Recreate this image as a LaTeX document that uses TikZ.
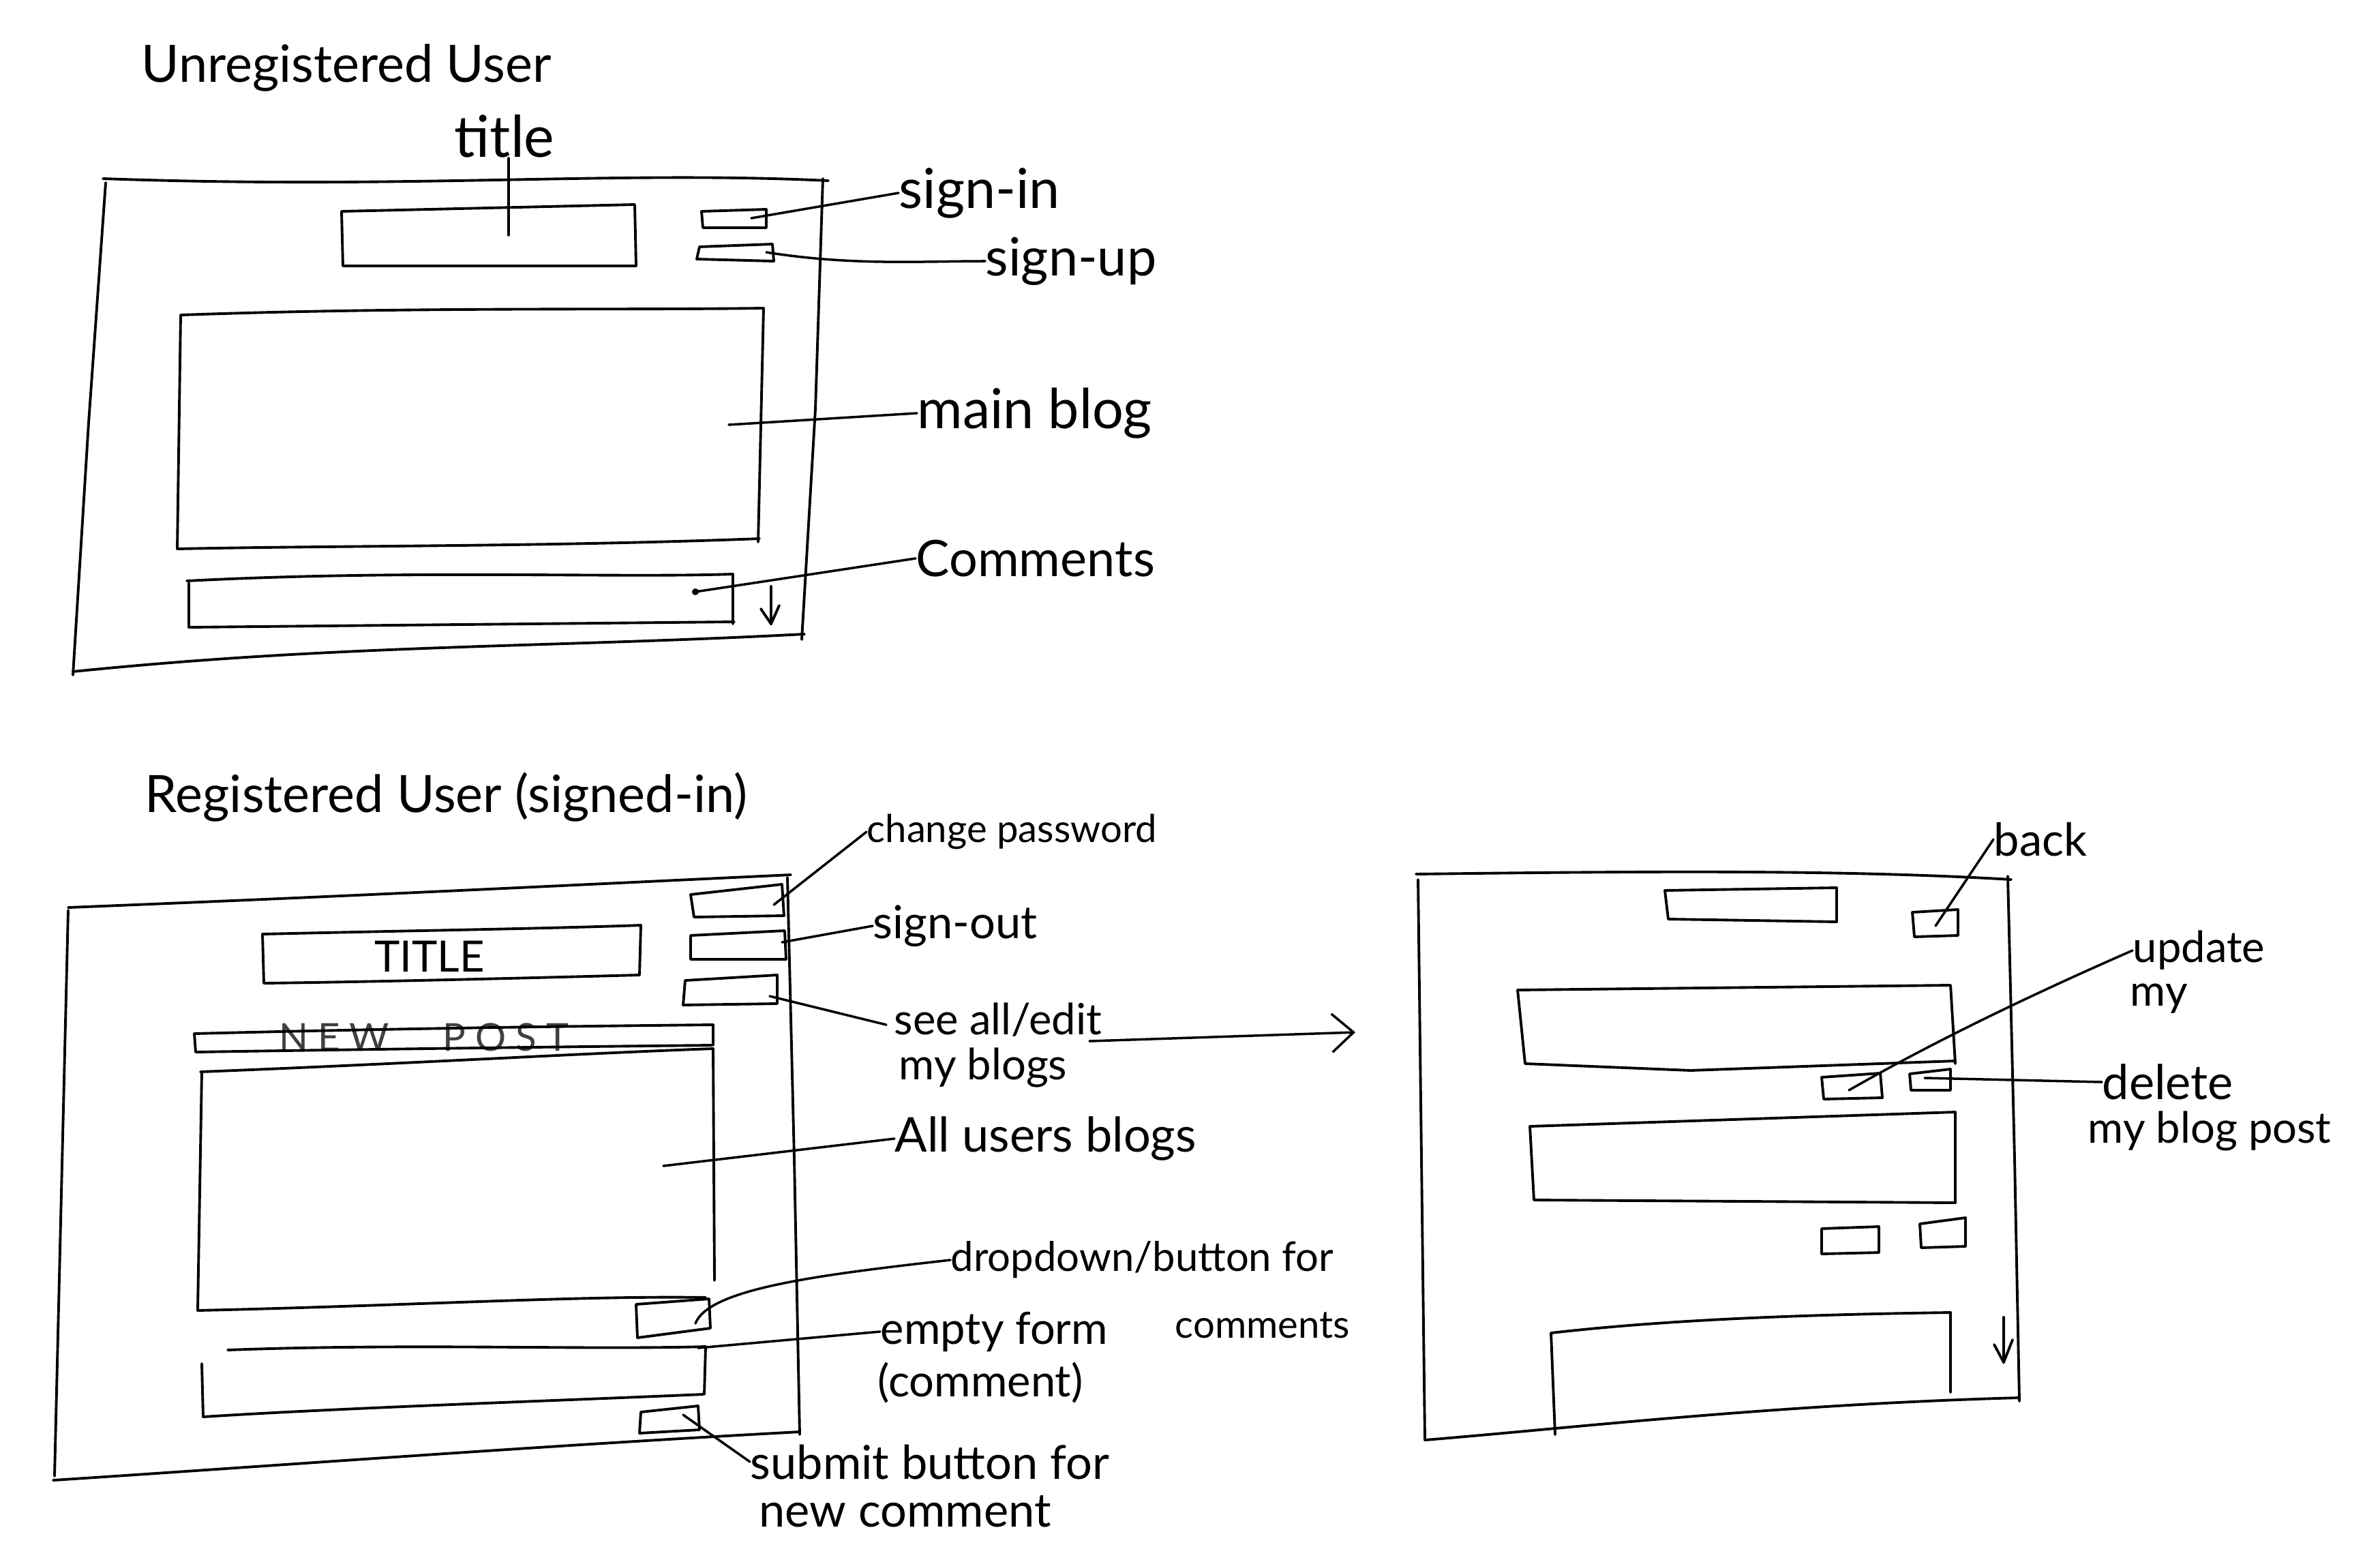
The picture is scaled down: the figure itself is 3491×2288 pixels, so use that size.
\documentclass[tikz,border=0pt]{standalone}
\usepackage{fontspec}
\setmainfont{Lato}
\usetikzlibrary{arrows.meta}
\newcommand{\fs}[1]{\fontsize{#1}{#1}\selectfont}
\begin{document}
\begin{tikzpicture}[x=0.01cm,y=-0.01cm,
  pen/.style={line width=1.1pt,line cap=round,line join=round},
  lead/.style={line width=1pt,line cap=round,line join=round},
  lbl/.style={anchor=west,inner sep=0pt,font=\fs{22}},
  hd/.style={anchor=west,inner sep=0pt,font=\fs{21.5}}]
\useasboundingbox[fill=white] (0,0) rectangle (3491,2288);

% ---------------- Unregistered user ----------------
\node[hd] (hUnreg) at (207,100) {Unregistered User};
% frame
\draw[pen] (151,262) .. controls (600,278) and (900,250) .. (1215,265);
\draw[pen] (1207,262) -- (1196,600) -- (1176,938);
\draw[pen] (1180,930) .. controls (800,950) and (500,945) .. (107,985);
\draw[pen] (155,268) -- (130,620) -- (107,990);
% title box
\draw[pen] (501,310) -- (931,300) -- (933,390) -- (503,390) -- cycle;
% sign-in / sign-up
\draw[pen] (1029,310) -- (1124,307) -- (1124,334) -- (1031,334) -- cycle;
\draw[pen] (1026,362) -- (1133,358) -- (1135,383) -- (1022,380) -- cycle;
% main blog
\draw[pen] (265,462) .. controls (600,450) and (900,455) .. (1120,452) -- (1112,795);
\draw[pen] (1114,790) .. controls (800,802) and (500,800) .. (260,805) -- (265,462);
% comments box
\draw[pen] (274,852) .. controls (600,835) and (900,848) .. (1075,842) -- (1075,915);
\draw[pen] (1077,912) -- (277,920) -- (277,855);
\fill (1020,868) circle (5);
\draw[pen] (1131,860) -- (1131,915);
\draw[pen] (1116,893) -- (1131,915) -- (1143,888);

\node[lbl,font=\fs{24}] (ttl) at (666,200) {title};
\coordinate (ttlP) at (746,345);
\draw[lead] (ttlP) -- (746,232) coordinate (ttlTop);

\node[lbl,font=\fs{23}] (signin) at (1318,283) {sign-in};
\coordinate (sinP) at (1102,320);
\draw[lead] (sinP) -- (signin.west);

\node[lbl] (signup) at (1445,383) {sign-up};
\coordinate (supP) at (1124,370);
\draw[lead] (supP) .. controls (1250,390) and (1350,383) .. (signup.west);

\node[lbl,font=\fs{23}] (mainblog) at (1345,606) {main blog};
\coordinate (mbP) at (1069,623);
\draw[lead] (mbP) -- (mainblog.west);

\node[lbl,font=\fs{21}] (comm) at (1343,819) {Comments};
\coordinate (cmP) at (1020,868);
\draw[lead] (cmP) -- (comm.west);

% ---------------- Registered user ----------------
\node[hd] (hReg) at (212,1169) {Registered User (signed-in)};
% frame
\draw[pen] (100,1331) .. controls (500,1315) and (800,1300) .. (1160,1283);
\draw[pen] (1155,1287) -- (1165,1700) -- (1173,2104);
\draw[pen] (1173,2100) .. controls (800,2120) and (400,2150) .. (78,2171);
\draw[pen] (100,1335) -- (90,1750) -- (80,2165);
% buttons right
\draw[pen] (1013,1312) -- (1147,1297) -- (1150,1343) -- (1018,1345) -- cycle;
\draw[pen] (1013,1372) -- (1151,1365) -- (1153,1407) -- (1013,1407) -- cycle;
\draw[pen] (1005,1438) -- (1140,1430) -- (1140,1472) -- (1002,1474) -- cycle;
% TITLE box
\draw[pen] (385,1370) .. controls (600,1365) and (800,1362) .. (940,1357) -- (938,1430)
  .. controls (750,1435) and (550,1440) .. (387,1442) -- cycle;
\node[font=\fs{18},inner sep=0pt] (titleTxt) at (630,1403) {TITLE};
% NEW POST bar
\node[font=\fs{16}\addfontfeatures{LetterSpace=25},inner sep=0pt,text=black!75] (newpost) at (622,1521) {NEW\hspace{1.4em}POST};
\draw[pen] (285,1516) .. controls (600,1508) and (850,1505) .. (1046,1503) -- (1046,1533);
\draw[pen] (285,1516) -- (287,1543) .. controls (600,1538) and (850,1535) .. (1044,1533);
% big box
\draw[pen] (294,1572) .. controls (600,1560) and (850,1545) .. (1046,1538) -- (1048,1878);
\draw[pen] (296,1572) -- (290,1922) .. controls (600,1915) and (850,1900) .. (1035,1903);
% dropdown button
\draw[pen] (933,1913) -- (1040,1905) -- (1042,1948) -- (935,1962) -- cycle;
% empty form
\draw[pen] (334,1980) .. controls (600,1970) and (850,1980) .. (1035,1975) -- (1033,2045);
\draw[pen] (1031,2045) .. controls (800,2055) and (500,2065) .. (298,2078) -- (296,2000);
% submit button
\draw[pen] (940,2071) -- (1024,2062) -- (1026,2097) -- (938,2102) -- cycle;

\node[lbl,font=\fs{16}] (chpw) at (1271,1220) {change password};
\coordinate (chpwP) at (1135,1327);
\draw[lead] (chpwP) -- (chpw.west);

\node[lbl,font=\fs{19}] (signout) at (1280,1358) {sign-out};
\coordinate (soP) at (1147,1382);
\draw[lead] (soP) -- (signout.west);

\node[lbl,font=\fs{18}] (seeall) at (1311,1496) {see all/edit};
\node[lbl,font=\fs{18}] (myblogs) at (1318,1566) {my blogs};
\coordinate (saP) at (1129,1461);
\draw[lead] (saP) -- (1300,1503);
\coordinate (arrStart) at (1598,1527);
\coordinate (arrEnd) at (1988,1514);
\draw[lead,-{Straight Barb[length=9pt,width=16pt,line width=1pt]}] (arrStart) -- (arrEnd);

\node[lbl,font=\fs{20}] (allblogs) at (1312,1670) {All users blogs};
\coordinate (abP) at (973,1710);
\draw[lead] (abP) -- (allblogs.west);

\node[lbl,font=\fs{17}] (dropdown) at (1394,1848) {dropdown/button for};
\node[lbl,font=\fs{16}] (comments2) at (1723,1944) {comments};
\coordinate (ddP) at (1020,1941);
\draw[lead] (ddP) .. controls (1040,1890) and (1200,1870) .. (dropdown.west);

\node[lbl,font=\fs{18.5}] (empty) at (1291,1953) {empty form};
\node[lbl,font=\fs{18.5}] (commentP) at (1287,2028) {(comment)};
\coordinate (efP) at (1024,1977);
\draw[lead] (efP) -- (empty.west);

\node[lbl,font=\fs{19.5}] (submit) at (1100,2144) {submit button for};
\node[lbl,font=\fs{19.5}] (newcomm) at (1113,2217) {new comment};
\coordinate (sbP) at (1002,2075);
\draw[lead] (sbP) -- (submit.west);

% ---------------- My blogs page ----------------
\draw[pen] (2077,1282) .. controls (2400,1278) and (2700,1275) .. (2950,1290);
\draw[pen] (2945,1285) -- (2955,1700) -- (2962,2055);
\draw[pen] (2962,2050) .. controls (2600,2060) and (2300,2095) .. (2090,2112);
\draw[pen] (2080,1290) -- (2085,1700) -- (2090,2112);
% top box, back
\draw[pen] (2442,1306) -- (2694,1302) -- (2694,1352) -- (2447,1348) -- cycle;
\draw[pen] (2805,1338) -- (2872,1334) -- (2872,1372) -- (2808,1374) -- cycle;
% box 1
\draw[pen] (2226,1452) -- (2861,1445) -- (2868,1560);
\draw[pen] (2868,1556) -- (2480,1570) -- (2237,1560) -- (2226,1452);
\draw[pen] (2672,1580) -- (2758,1574) -- (2761,1610) -- (2675,1612) -- cycle;
\draw[pen] (2801,1575) -- (2861,1568) -- (2861,1599) -- (2803,1599) -- cycle;
% box 2
\draw[pen] (2244,1652) -- (2868,1631) -- (2868,1764) -- (2250,1760) -- cycle;
\draw[pen] (2672,1802) -- (2756,1799) -- (2756,1837) -- (2672,1839) -- cycle;
\draw[pen] (2816,1795) -- (2883,1786) -- (2883,1828) -- (2818,1830) -- cycle;
% box 3
\draw[pen] (2281,2104) -- (2275,1955) .. controls (2450,1935) and (2650,1928) .. (2861,1925) -- (2861,2042);
\draw[pen] (2939,1932) -- (2939,1998);
\draw[pen] (2925,1972) -- (2939,1998) -- (2952,1965);

\node[lbl,font=\fs{19}] (back) at (2924,1231) {back};
\coordinate (bkP) at (2839,1358);
\draw[lead] (bkP) -- (back.west);

\node[lbl,font=\fs{18}] (update) at (3128,1394) {update};
\node[lbl,font=\fs{18}] (my) at (3124,1465) {my};
\coordinate (upP) at (2712,1599);
\draw[lead] (upP) .. controls (2850,1520) and (3000,1450) .. (update.west);

\node[lbl,font=\fs{20}] (delete) at (3083,1587) {delete};
\node[lbl,font=\fs{18}] (myblogpost) at (3062,1659) {my blog post};
\coordinate (dlP) at (2823,1581);
\draw[lead] (dlP) -- (delete.west);
\end{tikzpicture}
\end{document}
